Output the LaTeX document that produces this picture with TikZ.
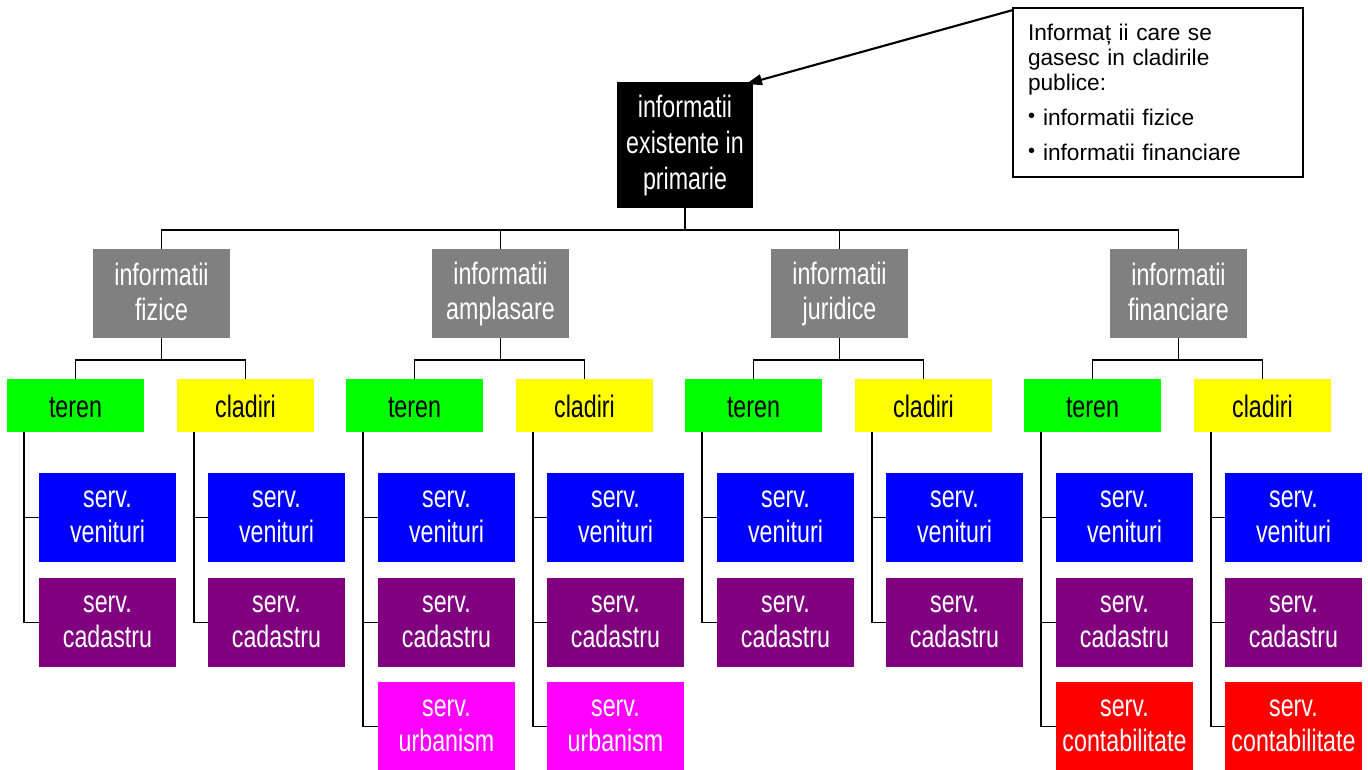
\documentclass[tikz,border=0pt]{standalone}
\usepackage{fontspec}
\setmainfont{Liberation Sans}
\newfontfamily\boxfont{Liberation Sans}[FakeStretch=0.75]
\usetikzlibrary{arrows.meta,calc}

\definecolor{lvlgray}{RGB}{128,128,128}
\definecolor{terengreen}{RGB}{0,255,0}
\definecolor{cladyellow}{RGB}{255,255,0}
\definecolor{servblue}{RGB}{0,0,255}
\definecolor{servpurple}{RGB}{128,0,128}
\definecolor{servmagenta}{RGB}{255,0,255}
\definecolor{servred}{RGB}{255,0,0}

\newcommand\noteitem{{\fontsize{15pt}{15pt}\selectfont\raisebox{2.5pt}{•}}\hspace{6pt}}
% struts that fix the first and last line of box labels
\newcommand\boxtop{\vrule width 0pt height 24.25pt depth 0pt}
\newcommand\boxbot{\vrule width 0pt height 0pt depth 2pt}
\newcommand\kindtop{\vrule width 0pt height 22pt depth 0pt}
\newcommand\kindbot{\vrule width 0pt height 0pt depth 4.3pt}
\newcommand\roottop{\vrule width 0pt height 25.75pt depth 0pt}
\newcommand\rootbot{\vrule width 0pt height 0pt depth 0.75pt}

\begin{document}
\begin{tikzpicture}[x=0.75pt,y=-0.75pt,
  every node/.style={inner sep=0pt, outer sep=0pt},
  boxtext/.style={align=center, font=\boxfont\fontsize{23.25pt}{26.25pt}\selectfont,
    execute at begin node=\boxtop, execute at end node=\boxbot},
  topbox/.style={align=center, rectangle, fill=black, text=white,
    font=\boxfont\fontsize{23.25pt}{27pt}\selectfont,
    execute at begin node=\roottop, execute at end node=\rootbot,
    minimum width=102pt, minimum height=94.5pt},
  catbox/.style={boxtext, rectangle, fill=lvlgray, text=white,
    minimum width=102.75pt, minimum height=66.75pt},
  kindbox/.style={align=center, font=\boxfont\fontsize{23.25pt}{26.25pt}\selectfont,
    execute at begin node=\kindtop, execute at end node=\kindbot,
    rectangle, text=black, minimum width=102.75pt, minimum height=39.75pt},
  servbox/.style={boxtext, rectangle, text=white,
    minimum width=102.75pt, minimum height=66.75pt},
  notebox/.style={draw, line width=0.8pt, rectangle, align=left,
    text width=195pt, inner xsep=11.25pt, minimum height=126.75pt,
    font=\fontsize{17pt}{18.75pt}\selectfont},
  conn/.style={draw, line width=0.8pt},
  pointer/.style={draw, line width=1.6pt, -{Triangle[length=12pt, width=8pt]}}
]
\useasboundingbox (0,0) rectangle (1368,769);

% root and note
\node[topbox] (top) at (685,145) {informatii\\existente in\\primarie};
\node[notebox] (note) at (1158,92.5)
  {Informaț ii care se\\gasesc in cladirile\\publice:\\[7.5pt]
   \noteitem informatii fizice\\[7.5pt]
   \noteitem informatii financiare};
\draw[pointer] ([yshift=-1.5pt]note.north west) -- ($(top.north east)+(-7,2)$);

% categories
\node[catbox] (g1) at (161.5,293.5)  {informatii\\fizice};
\node[catbox] (g2) at (500.5,293.5)  {informatii\\amplasare};
\node[catbox] (g3) at (839.5,293.5)  {informatii\\juridice};
\node[catbox] (g4) at (1178.5,293.5) {informatii\\financiare};

\coordinate (b0) at (685,230);
\foreach \i in {1,...,4}{
  \draw[conn] (top.south) -- (b0) -| (g\i.north);
}

% land / building and their services
\foreach \i in {1,...,4}{
  \pgfmathsetmacro\dx{339*(\i-1)}
  \node[kindbox, fill=terengreen] (t\i) at (75.5+\dx,405.5) {teren};
  \node[kindbox, fill=cladyellow] (c\i) at (245.5+\dx,405.5) {cladiri};
  \coordinate (b\i) at (161.5+\dx,360);
  \draw[conn] (g\i.south) -- (b\i) -| (t\i.north);
  \draw[conn] (b\i) -| (c\i.north);

  \node[servbox, fill=servblue]   (t\i-v) at (107.5+\dx,517.5) {serv.\\venituri};
  \node[servbox, fill=servpurple] (t\i-c) at (107.5+\dx,622.5) {serv.\\cadastru};
  \node[servbox, fill=servblue]   (c\i-v) at (276.5+\dx,517.5) {serv.\\venituri};
  \node[servbox, fill=servpurple] (c\i-c) at (276.5+\dx,622.5) {serv.\\cadastru};
  \draw[conn] ([xshift=12.75pt]t\i.south west) |- (t\i-v.west);
  \draw[conn] ([xshift=12.75pt]t\i.south west) |- (t\i-c.west);
  \draw[conn] ([xshift=12.75pt]c\i.south west) |- (c\i-v.west);
  \draw[conn] ([xshift=12.75pt]c\i.south west) |- (c\i-c.west);
}

% third service row
\node[servbox, fill=servmagenta] (t2-x) at (446.5,726.5)  {serv.\\urbanism};
\node[servbox, fill=servmagenta] (c2-x) at (615.5,726.5)  {serv.\\urbanism};
\node[servbox, fill=servred]     (t4-x) at (1124.5,726.5) {serv.\\contabilitate};
\node[servbox, fill=servred]     (c4-x) at (1293.5,726.5) {serv.\\contabilitate};
\foreach \n in {t2,c2,t4,c4}{
  \draw[conn] ([xshift=12.75pt]\n.south west) |- (\n-x.west);
}
\end{tikzpicture}
\end{document}
